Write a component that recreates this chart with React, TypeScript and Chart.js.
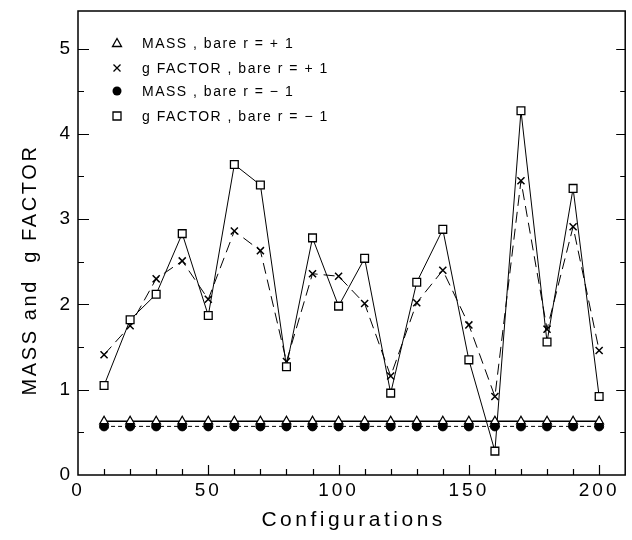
import React, { useEffect, useRef } from "react";
import { Chart, registerables } from "chart.js";
Chart.register(...registerables);

const configurations = [10, 20, 30, 40, 50, 60, 70, 80, 90, 100, 110, 120, 130, 140, 150, 160, 170, 180, 190, 200];
const massPlus = [0.63, 0.63, 0.63, 0.63, 0.63, 0.63, 0.63, 0.63, 0.63, 0.63, 0.63, 0.63, 0.63, 0.63, 0.63, 0.63, 0.63, 0.63, 0.63, 0.63];
const gPlus = [1.41, 1.75, 2.3, 2.51, 2.06, 2.86, 2.63, 1.33, 2.36, 2.33, 2.01, 1.16, 2.02, 2.4, 1.76, 0.92, 3.45, 1.71, 2.91, 1.46];
const massMinus = [0.57, 0.57, 0.57, 0.57, 0.57, 0.57, 0.57, 0.57, 0.57, 0.57, 0.57, 0.57, 0.57, 0.57, 0.57, 0.57, 0.57, 0.57, 0.57, 0.57];
const gMinus = [1.05, 1.82, 2.12, 2.83, 1.87, 3.64, 3.4, 1.27, 2.78, 1.98, 2.54, 0.96, 2.26, 2.88, 1.35, 0.28, 4.27, 1.56, 3.36, 0.92];
const xTickValues = [0, 50, 100, 150, 200];
const yTickValues = [0, 1, 2, 3, 4, 5];
const legendLabels = ["MASS , bare r = + 1", "g FACTOR , bare r = + 1", "MASS , bare r = − 1", "g FACTOR , bare r = − 1"];
const xTitle = "Configurations";
const yTitle = "MASS and  g FACTOR";

const FONT = "'Liberation Sans', Arial, sans-serif";

function pts(vals: number[]) {
  return configurations.map((c, i) => ({ x: c, y: vals[i] }));
}

const framePlugin = {
  id: "frame",
  beforeUpdate(chart: any) {
    chart.ctx.letterSpacing = "3px";
  },
  beforeDraw(chart: any) {
    const ctx = chart.ctx;
    ctx.letterSpacing = "3px";
    ctx.save();
    ctx.fillStyle = "#fff";
    ctx.fillRect(0, 0, chart.width, chart.height);
    ctx.restore();
  },
  afterDraw(chart: any) {
    const { ctx, chartArea, scales } = chart;
    const { left, right, top, bottom } = chartArea;
    const x = scales.x;
    const y = scales.y;
    ctx.save();
    ctx.strokeStyle = "#000";
    ctx.lineWidth = 1.5;
    ctx.strokeRect(left, top, right - left, bottom - top);
    ctx.lineWidth = 1.2;
    ctx.beginPath();
    for (let k = 1; k <= 10; k++) {
      const v = k * 0.5;
      const py = Math.round(y.getPixelForValue(v)) + 0.5;
      const major = k % 2 === 0;
      ctx.moveTo(left, py);
      ctx.lineTo(left + (major ? 11 : 6), py);
      ctx.moveTo(right, py);
      ctx.lineTo(right - (major ? 9 : 5), py);
    }
    for (let k = 1; k <= 20; k++) {
      const v = k * 10;
      const px = Math.round(x.getPixelForValue(v)) + 0.5;
      const major = v % 50 === 0;
      ctx.moveTo(px, bottom);
      ctx.lineTo(px, bottom - (major ? 10 : 6));
    }
    ctx.stroke();

    // axis titles
    ctx.fillStyle = "#000";
    ctx.textAlign = "center";
    ctx.textBaseline = "middle";
    ctx.font = `21px ${FONT}`;
    ctx.letterSpacing = "3.5px";
    ctx.fillText(xTitle, (left + right) / 2 + 2, 520);
    ctx.save();
    ctx.translate(30, 270);
    ctx.rotate(-Math.PI / 2);
    ctx.font = `20px ${FONT}`;
    ctx.letterSpacing = "2.6px";
    ctx.fillText(yTitle, 0, 0);
    ctx.restore();

    // legend
    const rows = [43, 68, 91, 116];
    const mx = 117;
    ctx.textAlign = "left";
    ctx.font = `14px ${FONT}`;
    ctx.letterSpacing = "1.5px";
    ctx.lineWidth = 1.3;
    rows.forEach((ry, i) => {
      ctx.beginPath();
      if (i === 0) {
        ctx.moveTo(mx, ry - 4.5);
        ctx.lineTo(mx + 4.5, ry + 3.5);
        ctx.lineTo(mx - 4.5, ry + 3.5);
        ctx.closePath();
        ctx.stroke();
      } else if (i === 1) {
        ctx.moveTo(mx - 3.5, ry - 3.5);
        ctx.lineTo(mx + 3.5, ry + 3.5);
        ctx.moveTo(mx + 3.5, ry - 3.5);
        ctx.lineTo(mx - 3.5, ry + 3.5);
        ctx.stroke();
      } else if (i === 2) {
        ctx.arc(mx, ry, 4.5, 0, Math.PI * 2);
        ctx.fill();
      } else {
        ctx.rect(mx - 4, ry - 4, 8, 8);
        ctx.stroke();
      }
      ctx.fillText(legendLabels[i], 142, ry + 1);
    });
    ctx.restore();
  },
};

export default function App() {
  const ref = useRef<HTMLCanvasElement | null>(null);
  useEffect(() => {
    if (!ref.current) return;
    const chart = new Chart(ref.current, {
      type: "line",
      data: {
        datasets: [
          {
            label: legendLabels[0],
            data: pts(massPlus),
            borderColor: "#000",
            borderWidth: 1.3,
            pointStyle: "triangle",
            pointRadius: 5,
            pointBackgroundColor: "#fff",
            pointBorderColor: "#000",
            pointBorderWidth: 1.3,
            order: 1,
          },
          {
            label: legendLabels[1],
            data: pts(gPlus),
            borderColor: "#000",
            borderWidth: 1,
            borderDash: [11, 6],
            pointStyle: "crossRot",
            pointRadius: 5,
            pointBorderColor: "#000",
            pointBorderWidth: 1.5,
            order: 4,
          },
          {
            label: legendLabels[2],
            data: pts(massMinus),
            borderColor: "#000",
            borderWidth: 1,
            borderDash: [4, 3],
            pointStyle: "circle",
            pointRadius: 4.5,
            pointBackgroundColor: "#000",
            pointBorderColor: "#000",
            pointBorderWidth: 1,
            order: 2,
          },
          {
            label: legendLabels[3],
            data: pts(gMinus),
            borderColor: "#000",
            borderWidth: 1,
            pointStyle: "rect",
            pointRadius: 5.5,
            pointBackgroundColor: "#fff",
            pointBorderColor: "#000",
            pointBorderWidth: 1.3,
            order: 3,
          },
        ],
      },
      options: {
        animation: false,
        responsive: false,
        events: [],
        layout: { padding: { left: 0, right: 5, top: 11, bottom: 0 } },
        plugins: { legend: { display: false }, tooltip: { enabled: false } },
        elements: { line: { tension: 0 } },
        scales: {
          x: {
            type: "linear",
            min: 0,
            max: 210,
            grid: { display: false, drawTicks: false },
            border: { display: false },
            afterBuildTicks: (s: any) => {
              s.ticks = xTickValues.map((v) => ({ value: v }));
            },
            afterFit: (s: any) => {
              s.height = 65;
              s.paddingLeft = 0;
              s.paddingRight = 0;
            },
            ticks: {
              color: "#000",
              font: { family: FONT, size: 19 },
              padding: 4,
              maxRotation: 0,
              autoSkip: false,
            },
          },
          y: {
            type: "linear",
            min: 0,
            max: 5.44,
            grid: { display: false, drawTicks: false },
            border: { display: false },
            afterBuildTicks: (s: any) => {
              s.ticks = yTickValues.map((v) => ({ value: v }));
            },
            afterFit: (s: any) => {
              s.width = 78;
              s.paddingTop = 0;
              s.paddingBottom = 0;
            },
            ticks: {
              color: "#000",
              font: { family: FONT, size: 19 },
              padding: 5,
              autoSkip: false,
            },
          },
        },
      },
      plugins: [framePlugin],
    });
    return () => chart.destroy();
  }, []);
  return (
    <div style={{ position: "absolute", left: 0, top: 0, width: 632, height: 540, background: "#fff" }}>
      <canvas ref={ref} width={632} height={540} style={{ display: "block" }} />
    </div>
  );
}
